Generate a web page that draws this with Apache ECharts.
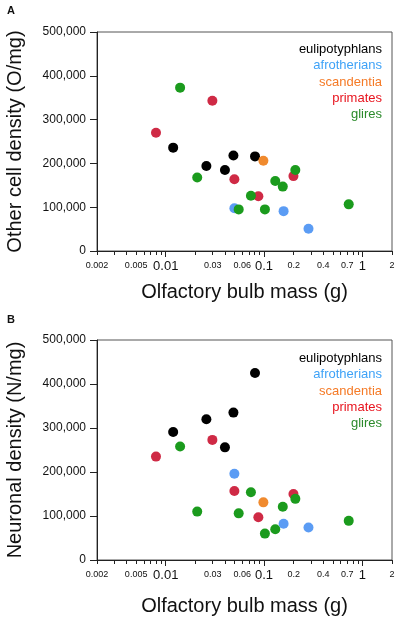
<!DOCTYPE html>
<html>
<head>
<meta charset="utf-8">
<script src="https://cdn.jsdelivr.net/npm/echarts@6/dist/echarts.min.js"></script>
<style>
  html, body { margin: 0; padding: 0; background: #fff; }
  #chart { width: 397px; height: 620px; }
</style>
</head>
<body>
<div id="chart"></div>
<script>
const groups = ['eulipotyphlans', 'afrotherians', 'scandentia', 'primates', 'glires'];
const dotColors = ['#000000', '#5b9cf4', '#f08a2e', '#cf2a45', '#1b9b1d'];
const textColors = ['#000000', '#3ea2f7', '#f57a26', '#e8141e', '#2b8a2b'];

// olfactory bulb mass (g), one array per group
const massEuli = [0.0119, 0.0259, 0.0400, 0.0488, 0.0809];
const massAfro = [0.0499, 0.158, 0.283];
const massScan = [0.0984];
const massPrim = [0.00796, 0.0298, 0.0499, 0.0875, 0.199];
const massGlir = [0.0140, 0.0209, 0.0552, 0.0735, 0.102, 0.130, 0.155, 0.208, 0.726];

// panel A: other cell density (O/mg)
const otherEuli = [236000, 194000, 185000, 218000, 216000];
const otherAfro = [97500, 91000, 51000];
const otherScan = [206000];
const otherPrim = [270000, 343000, 164000, 125000, 171000];
const otherGlir = [373000, 168000, 95000, 126000, 95000, 160000, 147000, 185000, 106500];

// panel B: neuronal density (N/mg)
const neurEuli = [291000, 320000, 256000, 335000, 425000];
const neurAfro = [196000, 82500, 74000];
const neurScan = [131000];
const neurPrim = [235000, 273000, 157000, 97000, 150000];
const neurGlir = [258000, 110000, 106000, 154000, 60000, 70000, 121000, 139000, 89000];

const xLabels = [0.002, 0.005, 0.01, 0.03, 0.06, 0.1, 0.2, 0.4, 0.7, 1, 2];
const xMajor = [0.01, 0.1, 1];

const masses = [massEuli, massAfro, massScan, massPrim, massGlir];
const otherVals = [otherEuli, otherAfro, otherScan, otherPrim, otherGlir];
const neurVals = [neurEuli, neurAfro, neurScan, neurPrim, neurGlir];

const font = '"Liberation Sans", Arial, Helvetica, sans-serif';

const xMinor = [];
[0.001, 0.01, 0.1, 1].forEach(d => {
  for (let k = 1; k <= 9; k++) {
    const v = +(k * d).toPrecision(3);
    if (v >= 0.002 && v <= 2 && xMajor.indexOf(v) < 0) xMinor.push(v);
  }
});

const chart = echarts.init(document.getElementById('chart'));

const grids = [
  { left: 97, right: 5, top: 32, height: 219, outerBoundsMode: 'none', show: true, borderColor: '#555', borderWidth: 1 },
  { left: 97, right: 5, top: 340, height: 220, outerBoundsMode: 'none', show: true, borderColor: '#555', borderWidth: 1 }
];

const xAxes = [];
const yAxes = [];
const names = ['Other cell density (O/mg)', 'Neuronal density (N/mg)'];
const xNameGaps = [31, 36];

[0, 1].forEach(g => {
  // main axis: labels + minor ticks
  xAxes.push({
    type: 'log', logBase: 10, gridIndex: g, min: 0.002, max: 2,
    name: 'Olfactory bulb mass (g)', nameLocation: 'middle', nameGap: xNameGaps[g],
    nameTextStyle: { fontFamily: font, fontSize: 20, color: '#111' },
    axisLine: { show: true, onZero: false, lineStyle: { color: '#222', width: 1 } },
    axisTick: { show: true, length: 4, customValues: xMinor, lineStyle: { color: '#222' } },
    axisLabel: {
      show: true, margin: 9, customValues: xLabels,
      formatter: v => {
        const s = String(+(+v).toPrecision(3));
        return xMajor.indexOf(+s) >= 0 ? '{big|' + s + '}' : '{small|' + s + '}';
      },
      rich: {
        big: { fontFamily: font, fontSize: 13, color: '#111' },
        small: { fontFamily: font, fontSize: 9, color: '#111', padding: [1, 0, 0, 0] }
      }
    },
    splitLine: { show: false }
  });
  // major ticks only
  xAxes.push({
    type: 'log', logBase: 10, gridIndex: g, min: 0.002, max: 2, position: 'bottom',
    axisLine: { show: false },
    axisTick: { show: true, length: 6, customValues: xMajor, lineStyle: { color: '#222' } },
    axisLabel: { show: false },
    splitLine: { show: false }
  });
  yAxes.push({
    type: 'value', gridIndex: g, min: 0, max: 500000, interval: 100000,
    name: names[g], nameLocation: 'middle', nameGap: 72,
    nameTextStyle: { fontFamily: font, fontSize: 20, color: '#111' },
    axisLine: { show: true, lineStyle: { color: '#222', width: 1 } },
    axisTick: { show: true, length: 7, lineStyle: { color: '#222' } },
    axisLabel: {
      margin: 11, fontFamily: font, fontSize: 12, color: '#111',
      formatter: v => v.toLocaleString('en-US')
    },
    splitLine: { show: false }
  });
});

const series = [];
[otherVals, neurVals].forEach((vals, g) => {
  groups.forEach((name, i) => {
    series.push({
      name: name, type: 'scatter', xAxisIndex: g * 2, yAxisIndex: g,
      symbolSize: 10,
      itemStyle: { color: dotColors[i], opacity: 1 },
      data: masses[i].map((m, j) => [m, vals[i][j]])
    });
  });
});

const legends = [];
[51, 360].forEach(top0 => {
  groups.forEach((name, i) => {
    legends.push({
      data: [name], icon: 'none', itemWidth: 0, itemHeight: 10, padding: 0,
      right: 15, top: top0 + i * 16.3 - 8, selectedMode: false,
      textStyle: { fontFamily: font, fontSize: 13, color: textColors[i] }
    });
  });
});

chart.setOption({
  animation: false,
  backgroundColor: '#fff',
  title: [
    { text: 'A', left: 7, top: 5, padding: 0, textStyle: { fontFamily: font, fontSize: 11, fontWeight: 'bold', color: '#111' } },
    { text: 'B', left: 7, top: 314, padding: 0, textStyle: { fontFamily: font, fontSize: 11, fontWeight: 'bold', color: '#111' } }
  ],
  legend: legends,
  grid: grids,
  xAxis: xAxes,
  yAxis: yAxes,
  series: series
});
</script>
</body>
</html>
